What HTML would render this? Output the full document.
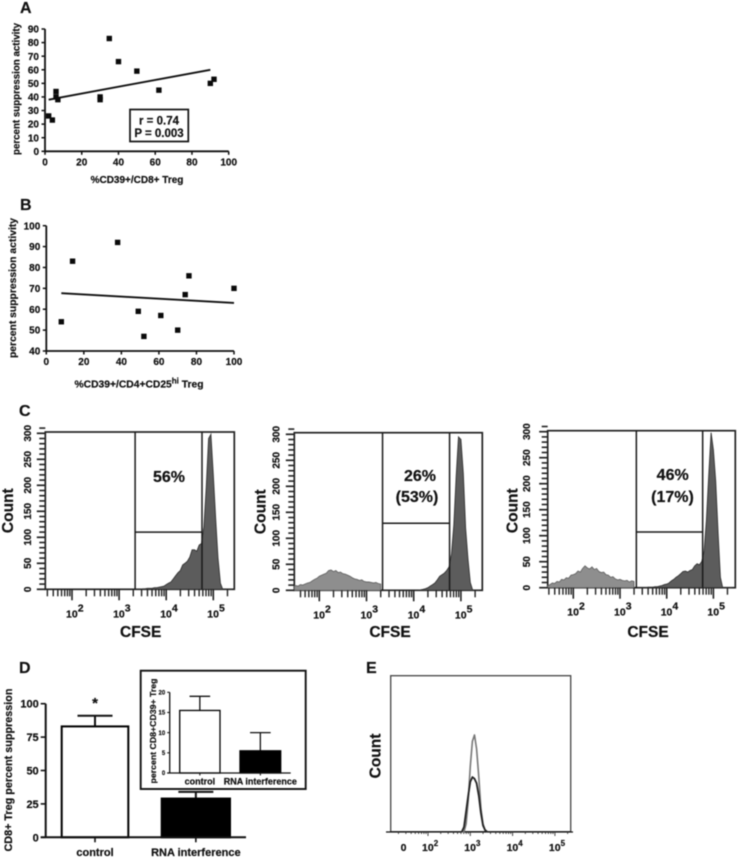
<!DOCTYPE html>
<html lang="en">
<head>
<meta charset="utf-8">
<title>CD39 Treg suppression figure</title>
<style>
html,body{margin:0;padding:0;background:#fff;width:738px;height:858px;overflow:hidden}
svg{display:block;filter:blur(0.45px)}
text{font-family:"Liberation Sans",sans-serif;font-weight:bold;fill:#111;stroke:#111;stroke-width:0.2px}
</style>
</head>
<body>
<svg id="figure" xmlns="http://www.w3.org/2000/svg" width="738" height="858" viewBox="0 0 738 858">
<rect width="738" height="858" fill="#fff"/>
<text x="20" y="13" font-size="16">A</text>
<text x="20" y="210" font-size="16">B</text>
<text x="19" y="416" font-size="16">C</text>
<text x="19" y="673" font-size="16">D</text>
<text x="366" y="673" font-size="16">E</text>
<g id="panelA"></g>
<g id="panelB"></g>
<g id="panelC1"></g>
<g id="panelC2"></g>
<g id="panelC3"></g>
<g id="panelD"></g>
<g id="panelDInset"></g>
<g id="panelE"></g>
</svg>
<script>
// ---- Panel A data
const aPctCD8 = [2, 4, 6, 6, 7, 30, 30, 35, 40, 50, 62, 90, 92];
const aSuppression = [26, 23, 44, 40, 38, 40, 38, 83, 66, 59, 45, 50, 53];
const aFitX = [2, 90];
const aFitY = [38, 60];
const aXTicks = [0, 20, 40, 60, 80, 100];
const aYTicks = [0, 10, 20, 30, 40, 50, 60, 70, 80, 90];
// ---- Panel B data
const bPctCD4 = [8, 14, 38, 49, 52, 61, 70, 74, 76, 100];
const bSuppression = [54, 83, 92, 59, 47, 57, 50, 67, 76, 70];
const bFitX = [8, 100];
const bFitY = [67.7, 63];
const bXTicks = [0, 20, 40, 60, 80, 100];
const bYTicks = [40, 50, 60, 70, 80, 90, 100];
// ---- Panel C data: log10(CFSE) bin starts and event counts
const cBinsLow = [1.45,1.5,1.55,1.6,1.65,1.7,1.75,1.8,1.85,1.9,1.95,2,2.05,2.1,2.15,2.2,2.25,2.3,2.35,2.4,2.45,2.5,2.55,2.6,2.65,2.7,2.75,2.8,2.85,2.9,2.95,3,3.05,3.1,3.15,3.2,3.25,3.3];
const cBinsHigh = [3.35,3.4,3.45,3.5,3.55,3.6,3.65,3.7,3.75,3.8,3.85,3.9,3.95,4,4.05,4.1,4.15,4.2,4.25,4.3,4.35,4.4,4.45,4.5,4.55,4.6,4.65,4.7,4.75,4.8,4.85,4.9,4.95,5,5.05,5.1,5.15,5.2,5.25,5.3,5.35,5.4];
const c1Low = [0,0,0,0,0,0,0,0,0,0,0,0,0,0,0,0,0,0,0,0,0,0,0,0,0,0,0,0,0,0,0,0,0,0,0,0,0,0];
const c1High = [0,0,0,1,1,2,2,2,3,3,4,5,6,9,12,14,20,26,32,36,47,50,54,62,76,76,73,85,88,120,195,290,298,220,135,60,12,0,0,0,0,0];
const c2Low = [8,9,8,11,10,12,14,15,18,21,23,27,29,31,33,38,39,36,38,34,35,32,31,29,27,24,22,21,19,20,17,16,16,15,14,15,13,12];
const c2High = [0,0,0,0,0,0,0,0,0,0,0,0,0,0,0,0,1,2,3,5,8,11,14,20,27,30,33,38,45,70,125,220,295,290,225,120,60,15,0,0,0,0];
const c3Low = [3,6,9,8,12,11,16,15,19,18,24,25,27,32,30,37,42,38,36,40,35,37,31,29,30,25,24,20,21,17,15,16,14,13,14,11,13,12];
const c3High = [0,0,0,0,0,1,1,1,2,2,3,4,6,7,9,13,16,20,23,27,31,32,30,33,35,42,46,44,50,70,130,215,298,265,205,105,20,0,0,0,0,0];
const cYMajor = [0, 50, 100, 150, 200, 250, 300];
const cYMinor = [10,20,30,40,60,70,80,90,110,120,130,140,160,170,180,190,210,220,230,240,260,270,280,290,310];
const cDecades = [1, 2, 3, 4, 5];
const cLabelDecades = [2, 3, 4, 5];
const c1Gates = [3.34, 4.76];
const c2Gates = [3.34, 4.76];
const c3Gates = [3.35, 4.77];
const c1GateCount = [110];
const c2GateCount = [129];
const c3GateCount = [107];
// ---- Panel D data
const dCategories = ['control', 'RNA interference'];
const dMeans = [83, 29];
const dUpper = [91, 34];
const dYTicks = [0, 25, 50, 75, 100];
const insetMeans = [15.5, 5.5];
const insetUpper = [19, 10];
const insetYTicks = [0, 5, 10, 15, 20];
// ---- Panel E data
const eBins = [2.8,2.85,2.9,2.95,3,3.05,3.1,3.15,3.2,3.25,3.3,3.35,3.4];
const eGrayCounts = [0,0,5,20,42,58,62,53,35,15,5,1,0];
const eDarkCounts = [0,3,13,23,32,35,34,31,23,12,4,1,0];
const eLabelDecades = [2, 3, 4, 5];
const eMinorDecades = [1, 2, 3, 4, 5];

const NS = 'http://www.w3.org/2000/svg';
function add(parent, tag, attrs, text) {
  const n = document.createElementNS(NS, tag);
  for (const k in attrs) n.setAttribute(k, attrs[k]);
  if (text !== undefined) n.textContent = text;
  parent.appendChild(n);
  return n;
}
function linear(d0, d1, r0, r1) { return v => r0 + (v - d0) * (r1 - r0) / (d1 - d0); }

// ---------- Scatter panels
function scatter(root, cfg) {
  const sx = linear(cfg.xDom[0], cfg.xDom[1], cfg.x0, cfg.x1);
  const sy = linear(cfg.yDom[0], cfg.yDom[1], cfg.y0, cfg.y1);
  const xAxis = add(root, 'line', {x1: cfg.x0, x2: cfg.x1, y1: cfg.y0, y2: cfg.y0, stroke: '#111', 'stroke-width': 1.8});
  
  
  const yAxis = add(root, 'line', {x1: cfg.x0, x2: cfg.x0, y1: cfg.y0 + 1, y2: cfg.y1, stroke: '#111', 'stroke-width': 1.8});
  
  
  cfg.xTicks.forEach(v => {
    const t = add(root, 'line', {x1: sx(v), x2: sx(v), y1: cfg.y0, y2: cfg.y0 + 3.5, stroke: '#111', 'stroke-width': 1.5});
    
    
    const l = add(root, 'text', {x: sx(v), y: cfg.y0 + 14, 'font-size': 10, 'text-anchor': 'middle'}, v);
    
    
  });
  cfg.yTicks.forEach(v => {
    const t = add(root, 'line', {x1: cfg.x0 - 3.5, x2: cfg.x0, y1: sy(v), y2: sy(v), stroke: '#111', 'stroke-width': 1.5});
    
    
    const l = add(root, 'text', {x: cfg.x0 - 6, y: sy(v) + 3.6, 'font-size': 10, 'text-anchor': 'end'}, v);
    
    
  });
  const fit = add(root, 'line', {x1: sx(cfg.fitX[0]), y1: sy(cfg.fitY[0]), x2: sx(cfg.fitX[1]), y2: sy(cfg.fitY[1]), stroke: '#111', 'stroke-width': 1.9});
  
  
  cfg.xs.forEach((x, i) => {
    const p = add(root, 'rect', {x: sx(x) - 2.7, y: sy(cfg.ys[i]) - 2.7, width: 5.4, height: 5.4, fill: '#0a0a0a'});
    
    
  });
}
const panelA = document.getElementById('panelA');
scatter(panelA, {xDom: [0, 100], yDom: [0, 90], x0: 45, x1: 228.7, y0: 151.3, y1: 29,
  xs: aPctCD8, ys: aSuppression, fitX: aFitX, fitY: aFitY, xTicks: aXTicks, yTicks: aYTicks});
const panelB = document.getElementById('panelB');
scatter(panelB, {xDom: [0, 100], yDom: [40, 100], x0: 46.3, x1: 234, y0: 351, y1: 225.7,
  xs: bPctCD4, ys: bSuppression, fitX: bFitX, fitY: bFitY, xTicks: bXTicks, yTicks: bYTicks});

const aXTitle = add(panelA, 'text', {x: 137, y: 183, 'font-size': 10, 'text-anchor': 'middle'}, '%CD39+/CD8+ Treg');


const aYTitle = add(panelA, 'text', {transform: 'translate(19.5,89) rotate(-90)', 'font-size': 10, 'text-anchor': 'middle', textLength: 132, lengthAdjust: 'spacingAndGlyphs'}, 'percent suppression activity');


const statBox = add(panelA, 'rect', {x: 130, y: 109.5, width: 58.3, height: 32, fill: '#fff', stroke: '#111', 'stroke-width': 1.7});


const statR = add(panelA, 'text', {x: 159, y: 124.5, 'font-size': 11.5, 'text-anchor': 'middle'}, 'r = 0.74');


const statP = add(panelA, 'text', {x: 159, y: 137, 'font-size': 11.5, 'text-anchor': 'middle'}, 'P = 0.003');



const bXTitle = add(panelB, 'text', {x: 139, y: 387.5, 'font-size': 10.3, 'text-anchor': 'middle'});


add(bXTitle, 'tspan', {}, '%CD39+/CD4+CD25');
add(bXTitle, 'tspan', {dy: -4, 'font-size': 8}, 'hi');
add(bXTitle, 'tspan', {dy: 4}, ' Treg');
const bYTitle = add(panelB, 'text', {transform: 'translate(16,288) rotate(-90)', 'font-size': 10, 'text-anchor': 'middle', textLength: 140, lengthAdjust: 'spacingAndGlyphs'}, 'percent suppression activity');



// ---------- Flow histograms (panel C)
function flow(root, cfg) {
  const sx = v => cfg.x2 + (v - 2) * cfg.decade;
  const sy = linear(0, 300, cfg.bottom, cfg.bottom - 156);
  const frame = add(root, 'rect', {x: cfg.left, y: cfg.top, width: cfg.right - cfg.left, height: cfg.bottom - cfg.top, fill: '#fff', stroke: '#222', 'stroke-width': 1.7});
  
  
  function histPath(bins, vals) {
    const first = Math.max(sx(bins[0]), cfg.left);
    const lastBin = bins[bins.length - 1];
    let d = 'M' + first.toFixed(1) + ' ' + cfg.bottom;
    bins.forEach((b, i) => {
      const x = Math.max(Math.min(sx(b), cfg.right), cfg.left);
      d += 'L' + x.toFixed(1) + ' ' + sy(vals[i]).toFixed(1);
    });
    return d + 'L' + Math.min(sx(lastBin), cfg.right).toFixed(1) + ' ' + cfg.bottom + 'Z';
  }
  if (cfg.low.some(v => v > 0)) {
    const h = add(root, 'path', {d: histPath(cBinsLow, cfg.low), fill: '#8e8e8e', stroke: '#666', 'stroke-width': 0.9});
    
    
  }
  const hd = add(root, 'path', {d: histPath(cBinsHigh, cfg.high), fill: '#5c5c5c', stroke: '#333', 'stroke-width': 0.9});
  
  
  cfg.gates.forEach(g => {
    const gl = add(root, 'line', {x1: sx(g), x2: sx(g), y1: cfg.top, y2: cfg.bottom, stroke: '#1a1a1a', 'stroke-width': 1.5});
    
    
  });
  const gh = add(root, 'line', {x1: sx(cfg.gates[0]), x2: sx(cfg.gates[1]), y1: sy(cfg.gateCount[0]), y2: sy(cfg.gateCount[0]), stroke: '#1a1a1a', 'stroke-width': 1.5});
  
  
  cYMinor.forEach(v => {
    const t = add(root, 'line', {x1: cfg.left - 6, x2: cfg.left, y1: sy(v), y2: sy(v), stroke: '#222', 'stroke-width': 1.6});
    
    
  });
  cYMajor.forEach(v => {
    const t = add(root, 'line', {x1: cfg.left - 8.5, x2: cfg.left, y1: sy(v), y2: sy(v), stroke: '#222', 'stroke-width': 1.7});
    
    
    const yy = sy(v);
    const l = add(root, 'text', {transform: 'translate(' + (cfg.yLabelX + 3.5) + ',' + yy + ') rotate(-90)', 'font-size': 10, 'text-anchor': 'middle'}, v);
    
    
  });
  cDecades.forEach(d => {
    [2, 3, 4, 5, 6, 7, 8, 9].forEach(k => {
      const pos = sx(d + Math.log10(k));
      if (pos < cfg.left + 1 || pos > cfg.right) return;
      const t = add(root, 'line', {x1: pos, x2: pos, y1: cfg.bottom, y2: cfg.bottom + 7, stroke: '#222', 'stroke-width': 1.4});
      
      
    });
  });
  cLabelDecades.forEach(d => {
    const pos = sx(d);
    const t = add(root, 'line', {x1: pos, x2: pos, y1: cfg.bottom, y2: cfg.bottom + 11, stroke: '#222', 'stroke-width': 1.6});
    
    
    const l = add(root, 'text', {x: pos - 6, y: cfg.bottom + 28, 'font-size': 10.5});
    
    
    add(l, 'tspan', {}, '10');
    add(l, 'tspan', {dy: -6, 'font-size': 10.5}, d);
  });
  const cy = add(root, 'text', {transform: 'translate(' + (cfg.countX + 5.5) + ',' + cfg.countY + ') rotate(-90)', 'font-size': 15.5, 'text-anchor': 'middle'}, 'Count');
  
  
  const cx = add(root, 'text', {x: cfg.cfseX, y: 637, 'font-size': 15.5, 'text-anchor': 'middle'}, 'CFSE');
  
  
  cfg.notes.forEach(n => {
    const t = add(root, 'text', {x: n[1], y: n[2], 'font-size': 16, 'text-anchor': 'middle'}, n[0]);
    
    
  });
}
flow(document.getElementById('panelC1'), {left: 45.3, right: 234.3, top: 432, bottom: 589.3, x2: 72, decade: 47.1,
  low: c1Low, high: c1High, gates: c1Gates, gateCount: c1GateCount, yLabelX: 27.7, countX: 7.3, countY: 510.7, cfseX: 140.7,
  notes: [['56%', 169, 482]]});
flow(document.getElementById('panelC2'), {left: 294.3, right: 482.3, top: 432.7, bottom: 590.3, x2: 319.3, decade: 47.2,
  low: c2Low, high: c2High, gates: c2Gates, gateCount: c2GateCount, yLabelX: 276, countX: 260, countY: 511.7, cfseX: 390,
  notes: [['26%', 420, 481], ['(53%)', 417, 502]]});
flow(document.getElementById('panelC3'), {left: 547.7, right: 735.3, top: 430.7, bottom: 587.7, x2: 573.3, decade: 46.7,
  low: c3Low, high: c3High, gates: c3Gates, gateCount: c3GateCount, yLabelX: 526.7, countX: 512, countY: 510.7, cfseX: 648,
  notes: [['46%', 672.7, 480], ['(17%)', 672.5, 502]]});

// ---------- Bar charts (panel D)
function bars(root, cfg) {
  const sy = linear(cfg.dom[0], cfg.dom[1], cfg.y0, cfg.y1);
  cfg.means.forEach((m, i) => {
    const b = cfg.bars[i];
    const cxp = (b[0] + b[1]) / 2;
    const err = add(root, 'line', {x1: cxp, x2: cxp, y1: sy(cfg.upper[i]), y2: sy(m), stroke: '#111', 'stroke-width': cfg.sw});
    
    
    const cap = add(root, 'line', {x1: cxp - cfg.cap, x2: cxp + cfg.cap, y1: sy(cfg.upper[i]), y2: sy(cfg.upper[i]), stroke: '#111', 'stroke-width': cfg.sw});
    
    
    const r = add(root, 'rect', {x: b[0], y: sy(m), width: b[1] - b[0], height: sy(0) - sy(m), fill: i === 0 ? '#fff' : '#000', stroke: '#000', 'stroke-width': cfg.sw});
    
    
    const tk = add(root, 'line', {x1: cxp, x2: cxp, y1: cfg.y0, y2: cfg.y0 + cfg.tick, stroke: '#111', 'stroke-width': cfg.sw * 0.8});
    
    
    const l = add(root, 'text', {x: cxp + cfg.labelDx[i], y: cfg.labelY, 'font-size': cfg.labelSize, 'text-anchor': 'middle'}, dCategories[i]);
    
    
  });
  const xa = add(root, 'line', {x1: cfg.x0 - cfg.tick, x2: cfg.xEnd, y1: cfg.y0, y2: cfg.y0, stroke: '#111', 'stroke-width': cfg.sw});
  
  
  const ya = add(root, 'line', {x1: cfg.x0, x2: cfg.x0, y1: cfg.y0, y2: cfg.y1, stroke: '#111', 'stroke-width': cfg.sw});
  
  
  cfg.ticks.forEach(v => {
    const t = add(root, 'line', {x1: cfg.x0 - cfg.tick, x2: cfg.x0, y1: sy(v), y2: sy(v), stroke: '#111', 'stroke-width': cfg.sw * 0.8});
    
    
    const l = add(root, 'text', {x: cfg.x0 - cfg.tick - 2, y: sy(v) + cfg.tickSize * 0.36, 'font-size': cfg.tickSize, 'text-anchor': 'end'}, v);
    
    
  });
}
const panelD = document.getElementById('panelD');
bars(panelD, {dom: [0, 100], y0: 837.3, y1: 703.7, x0: 45.7, xEnd: 246, means: dMeans, upper: dUpper,
  bars: [[61.7, 128.3], [161.7, 230]], cap: 17.5, sw: 2, tick: 5, ticks: dYTicks, tickSize: 11, labelY: 856, labelSize: 11, labelDx: [0, 0]});
const star = add(panelD, 'text', {x: 95, y: 708, 'font-size': 15, 'text-anchor': 'middle'}, '*');


const dYTitle = add(panelD, 'text', {transform: 'translate(12,770) rotate(-90)', 'font-size': 11, 'text-anchor': 'middle', textLength: 163, lengthAdjust: 'spacingAndGlyphs'}, 'CD8+ Treg percent suppression');



const inset = document.getElementById('panelDInset');
const insetBox = add(inset, 'rect', {x: 140.7, y: 670.7, width: 165, height: 118.3, fill: '#fff', stroke: '#111', 'stroke-width': 1.9});


bars(inset, {dom: [0, 20], y0: 773, y1: 692.3, x0: 169.7, xEnd: 290.7, means: insetMeans, upper: insetUpper,
  bars: [[179.7, 220], [240, 280.7]], cap: 10.3, sw: 1.3, tick: 2.5, ticks: insetYTicks, tickSize: 6, labelY: 784.5, labelSize: 9, labelDx: [0, 0]});
const insetYTitle = add(inset, 'text', {transform: 'translate(156,731) rotate(-90)', 'font-size': 8.5, 'text-anchor': 'middle', textLength: 105, lengthAdjust: 'spacingAndGlyphs'}, 'percent CD8+CD39+ Treg');



// ---------- Overlay histogram (panel E)
const panelE = document.getElementById('panelE');
const eX = v => 428 + (v - 2) * 42.3;
const eY = linear(0, 100, 831.7, 675.7);
const eFrame = add(panelE, 'rect', {x: 390.7, y: 675.7, width: 180, height: 156, fill: '#fff', stroke: '#444', 'stroke-width': 1.3});


const eAxis = add(panelE, 'line', {x1: 386, x2: 573, y1: 832, y2: 832, stroke: '#111', 'stroke-width': 1.3});


eMinorDecades.forEach(d => {
  [1, 2, 3, 4, 5, 6, 7, 8, 9].forEach(k => {
    const pos = eX(d + Math.log10(k));
    if (pos < 392 || pos > 571) return;
    const t = add(panelE, 'line', {x1: pos, x2: pos, y1: 832, y2: k === 1 ? 836 : 834, stroke: '#333', 'stroke-width': 0.9});
    
    
  });
});
function ePath(vals) { return eBins.map((b, i) => (i ? 'L' : 'M') + eX(b).toFixed(1) + ' ' + eY(vals[i]).toFixed(1)).join(''); }
const eGray = add(panelE, 'path', {d: ePath(eGrayCounts), fill: 'none', stroke: '#777', 'stroke-width': 1.6, 'stroke-linejoin': 'round'});


const eDark = add(panelE, 'path', {d: ePath(eDarkCounts), fill: 'none', stroke: '#222', 'stroke-width': 1.8, 'stroke-linejoin': 'round'});


const eZero = add(panelE, 'text', {x: 403.5, y: 851, 'font-size': 10.5, 'text-anchor': 'middle'}, '0');


eLabelDecades.forEach(d => {
  const l = add(panelE, 'text', {x: eX(d) - 6, y: 851, 'font-size': 10.5});
  
  
  add(l, 'tspan', {}, '10');
  add(l, 'tspan', {dy: -5, 'font-size': 8}, d);
});
const eCount = add(panelE, 'text', {transform: 'translate(380.5,756) rotate(-90)', 'font-size': 15.5, 'text-anchor': 'middle'}, 'Count');


</script>
</body>
</html>
